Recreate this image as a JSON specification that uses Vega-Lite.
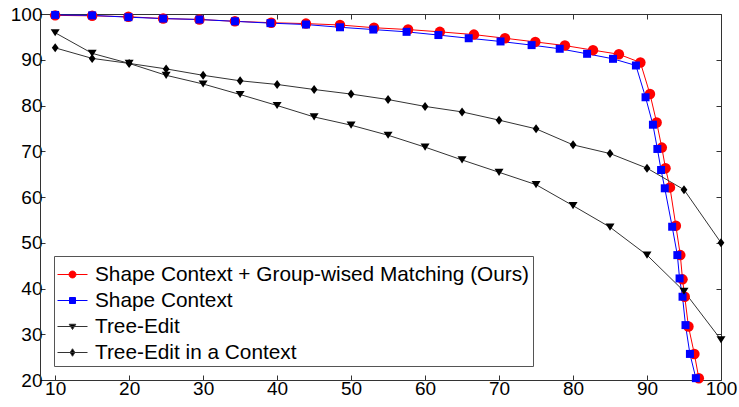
{
  "$schema": "https://vega.github.io/schema/vega-lite/v6.json",
  "width": 681,
  "height": 366,
  "autosize": {"type": "none"},
  "padding": {"left": 40, "top": 14, "right": 18, "bottom": 27},
  "background": "white",
  "config": {
    "view": {"stroke": null},
    "font": "Liberation Sans",
    "axis": {"grid": false, "labelFont": "Liberation Sans", "labelFontSize": 19, "labelColor": "#000000", "domainColor": "#333333", "tickColor": "#333333", "tickSize": -5, "title": null}
  },
  "data": {"values": [
    {"series": "Shape Context + Group-wised Matching (Ours)", "x": 10, "y": 99.7},
    {"series": "Shape Context + Group-wised Matching (Ours)", "x": 15, "y": 99.6},
    {"series": "Shape Context + Group-wised Matching (Ours)", "x": 19.9, "y": 99.4},
    {"series": "Shape Context + Group-wised Matching (Ours)", "x": 24.6, "y": 99.0},
    {"series": "Shape Context + Group-wised Matching (Ours)", "x": 29.5, "y": 98.8},
    {"series": "Shape Context + Group-wised Matching (Ours)", "x": 34.3, "y": 98.4},
    {"series": "Shape Context + Group-wised Matching (Ours)", "x": 39.2, "y": 98.1},
    {"series": "Shape Context + Group-wised Matching (Ours)", "x": 43.9, "y": 97.9},
    {"series": "Shape Context + Group-wised Matching (Ours)", "x": 48.5, "y": 97.6},
    {"series": "Shape Context + Group-wised Matching (Ours)", "x": 53.1, "y": 97.0},
    {"series": "Shape Context + Group-wised Matching (Ours)", "x": 57.7, "y": 96.6},
    {"series": "Shape Context + Group-wised Matching (Ours)", "x": 62.0, "y": 96.1},
    {"series": "Shape Context + Group-wised Matching (Ours)", "x": 66.6, "y": 95.5},
    {"series": "Shape Context + Group-wised Matching (Ours)", "x": 70.8, "y": 94.7},
    {"series": "Shape Context + Group-wised Matching (Ours)", "x": 74.9, "y": 93.9},
    {"series": "Shape Context + Group-wised Matching (Ours)", "x": 78.9, "y": 93.1},
    {"series": "Shape Context + Group-wised Matching (Ours)", "x": 82.7, "y": 92.1},
    {"series": "Shape Context + Group-wised Matching (Ours)", "x": 86.2, "y": 91.2},
    {"series": "Shape Context + Group-wised Matching (Ours)", "x": 89.1, "y": 89.4},
    {"series": "Shape Context + Group-wised Matching (Ours)", "x": 90.4, "y": 82.5},
    {"series": "Shape Context + Group-wised Matching (Ours)", "x": 91.3, "y": 76.3},
    {"series": "Shape Context + Group-wised Matching (Ours)", "x": 92.0, "y": 70.8},
    {"series": "Shape Context + Group-wised Matching (Ours)", "x": 92.5, "y": 66.3},
    {"series": "Shape Context + Group-wised Matching (Ours)", "x": 93.1, "y": 62.1},
    {"series": "Shape Context + Group-wised Matching (Ours)", "x": 93.9, "y": 53.7},
    {"series": "Shape Context + Group-wised Matching (Ours)", "x": 94.5, "y": 47.3},
    {"series": "Shape Context + Group-wised Matching (Ours)", "x": 94.8, "y": 42.0},
    {"series": "Shape Context + Group-wised Matching (Ours)", "x": 95.1, "y": 38.2},
    {"series": "Shape Context + Group-wised Matching (Ours)", "x": 95.6, "y": 31.7},
    {"series": "Shape Context + Group-wised Matching (Ours)", "x": 96.4, "y": 25.7},
    {"series": "Shape Context + Group-wised Matching (Ours)", "x": 97.0, "y": 20.4},
    {"series": "Shape Context", "x": 10, "y": 99.8},
    {"series": "Shape Context", "x": 15, "y": 99.7},
    {"series": "Shape Context", "x": 19.9, "y": 99.3},
    {"series": "Shape Context", "x": 24.6, "y": 99.0},
    {"series": "Shape Context", "x": 29.5, "y": 98.8},
    {"series": "Shape Context", "x": 34.3, "y": 98.4},
    {"series": "Shape Context", "x": 39.1, "y": 98.0},
    {"series": "Shape Context", "x": 43.9, "y": 97.7},
    {"series": "Shape Context", "x": 48.5, "y": 97.1},
    {"series": "Shape Context", "x": 53.0, "y": 96.6},
    {"series": "Shape Context", "x": 57.5, "y": 96.1},
    {"series": "Shape Context", "x": 61.8, "y": 95.4},
    {"series": "Shape Context", "x": 65.9, "y": 94.7},
    {"series": "Shape Context", "x": 70.2, "y": 94.0},
    {"series": "Shape Context", "x": 74.4, "y": 93.2},
    {"series": "Shape Context", "x": 78.2, "y": 92.4},
    {"series": "Shape Context", "x": 81.9, "y": 91.3},
    {"series": "Shape Context", "x": 85.4, "y": 90.2},
    {"series": "Shape Context", "x": 88.5, "y": 88.75},
    {"series": "Shape Context", "x": 89.8, "y": 81.8},
    {"series": "Shape Context", "x": 90.8, "y": 75.8},
    {"series": "Shape Context", "x": 91.4, "y": 70.5},
    {"series": "Shape Context", "x": 91.9, "y": 65.9},
    {"series": "Shape Context", "x": 92.4, "y": 61.9},
    {"series": "Shape Context", "x": 93.4, "y": 53.5},
    {"series": "Shape Context", "x": 94.1, "y": 47.3},
    {"series": "Shape Context", "x": 94.4, "y": 42.2},
    {"series": "Shape Context", "x": 94.8, "y": 38.2},
    {"series": "Shape Context", "x": 95.2, "y": 32.0},
    {"series": "Shape Context", "x": 95.8, "y": 25.7},
    {"series": "Shape Context", "x": 96.6, "y": 20.4},
    {"series": "Tree-Edit", "x": 10, "y": 95.9},
    {"series": "Tree-Edit", "x": 15, "y": 91.4},
    {"series": "Tree-Edit", "x": 20, "y": 89.2},
    {"series": "Tree-Edit", "x": 25, "y": 86.6},
    {"series": "Tree-Edit", "x": 30, "y": 84.7},
    {"series": "Tree-Edit", "x": 35, "y": 82.4},
    {"series": "Tree-Edit", "x": 40, "y": 80.0},
    {"series": "Tree-Edit", "x": 45, "y": 77.5},
    {"series": "Tree-Edit", "x": 50, "y": 75.7},
    {"series": "Tree-Edit", "x": 55, "y": 73.5},
    {"series": "Tree-Edit", "x": 60, "y": 70.9},
    {"series": "Tree-Edit", "x": 65, "y": 68.1},
    {"series": "Tree-Edit", "x": 70, "y": 65.4},
    {"series": "Tree-Edit", "x": 75, "y": 62.7},
    {"series": "Tree-Edit", "x": 80, "y": 58.1},
    {"series": "Tree-Edit", "x": 85, "y": 53.4},
    {"series": "Tree-Edit", "x": 90, "y": 47.3},
    {"series": "Tree-Edit", "x": 95, "y": 39.4},
    {"series": "Tree-Edit", "x": 100, "y": 28.8},
    {"series": "Tree-Edit in a Context", "x": 10, "y": 92.6},
    {"series": "Tree-Edit in a Context", "x": 15, "y": 90.3},
    {"series": "Tree-Edit in a Context", "x": 20, "y": 89.2},
    {"series": "Tree-Edit in a Context", "x": 25, "y": 88.0},
    {"series": "Tree-Edit in a Context", "x": 30, "y": 86.6},
    {"series": "Tree-Edit in a Context", "x": 35, "y": 85.4},
    {"series": "Tree-Edit in a Context", "x": 40, "y": 84.6},
    {"series": "Tree-Edit in a Context", "x": 45, "y": 83.5},
    {"series": "Tree-Edit in a Context", "x": 50, "y": 82.5},
    {"series": "Tree-Edit in a Context", "x": 55, "y": 81.3},
    {"series": "Tree-Edit in a Context", "x": 60, "y": 79.8},
    {"series": "Tree-Edit in a Context", "x": 65, "y": 78.6},
    {"series": "Tree-Edit in a Context", "x": 70, "y": 76.8},
    {"series": "Tree-Edit in a Context", "x": 75, "y": 74.9},
    {"series": "Tree-Edit in a Context", "x": 80, "y": 71.4},
    {"series": "Tree-Edit in a Context", "x": 85, "y": 69.5},
    {"series": "Tree-Edit in a Context", "x": 90, "y": 66.3},
    {"series": "Tree-Edit in a Context", "x": 95, "y": 61.6},
    {"series": "Tree-Edit in a Context", "x": 100, "y": 50.0}
  ]},
  "resolve": {"axis": {"x": "independent", "y": "independent"}},
  "layer": [
    {
      "mark": {"type": "line", "strokeWidth": 1, "clip": false},
      "encoding": {
        "x": {"field": "x", "type": "quantitative", "scale": {"domain": [7.95, 100], "nice": false, "zero": false},
              "axis": {"orient": "bottom", "values": [10, 20, 30, 40, 50, 60, 70, 80, 90, 100], "labelPadding": 4, "labelFlush": false, "title": null}},
        "y": {"field": "y", "type": "quantitative", "scale": {"domain": [20, 100], "nice": false, "zero": false},
              "axis": {"orient": "left", "values": [20, 30, 40, 50, 60, 70, 80, 90, 100], "labelPadding": 3, "labelFlush": false, "title": null}},
        "stroke": {"field": "series", "type": "nominal",
          "scale": {"domain": ["Shape Context + Group-wised Matching (Ours)", "Shape Context", "Tree-Edit", "Tree-Edit in a Context"], "range": ["#ff0000", "#0000ff", "#333333", "#333333"]},
          "legend": {
            "orient": "bottom-left", "offset": 14, "title": null,
            "symbolSize": 900, "labelFont": "Liberation Sans", "labelFontSize": 20.8, "labelColor": "#000000",
            "labelOffset": 7, "labelLimit": 0, "padding": 3, "rowPadding": 0,
            "strokeColor": "#555555", "fillColor": "#ffffff", "symbolStrokeWidth": 1,
            "encode": {"symbols": {"update": {
              "size": {"value": 900},
              "strokeWidth": {"value": 1},
              "opacity": {"value": 1},
              "shape": {"signal": "datum.value === 'Shape Context' ? 'M-1,0H1M-0.2,-0.2H0.2V0.2H-0.2Z' : datum.value === 'Tree-Edit' ? 'M-1,0H1M-0.22,-0.15H0.22L0,0.2Z' : datum.value === 'Tree-Edit in a Context' ? 'M-1,0H1M0,-0.25L0.16,0L0,0.25L-0.16,0Z' : 'M-1,0H1M-0.23,0A0.23,0.23,0,1,1,0.23,0A0.23,0.23,0,1,1,-0.23,0Z'"},
              "stroke": {"signal": "datum.value === 'Shape Context' ? '#0000ff' : indexof(datum.value, 'Tree') === 0 ? '#000000' : '#ff0000'"},
              "fill": {"signal": "datum.value === 'Shape Context' ? '#0000ff' : indexof(datum.value, 'Tree') === 0 ? '#000000' : '#ff0000'"}
            }}}
          }
        }
      }
    },
    {
      "transform": [{"filter": {"field": "series", "equal": "Shape Context + Group-wised Matching (Ours)"}}],
      "mark": {"type": "point", "filled": true, "opacity": 1, "strokeWidth": 0, "clip": false, "shape": "circle", "size": 110, "color": "#ff0000"},
      "encoding": {
        "x": {"field": "x", "type": "quantitative", "scale": {"domain": [7.95, 100], "nice": false, "zero": false},
              "axis": {"orient": "top", "values": [10, 20, 30, 40, 50, 60, 70, 80, 90, 100], "labels": false, "title": null}},
        "y": {"field": "y", "type": "quantitative", "scale": {"domain": [20, 100], "nice": false, "zero": false},
              "axis": {"orient": "right", "values": [20, 30, 40, 50, 60, 70, 80, 90, 100], "labels": false, "title": null}}
      }
    },
    {
      "transform": [{"filter": {"field": "series", "equal": "Shape Context"}}],
      "mark": {"type": "point", "filled": true, "opacity": 1, "strokeWidth": 0, "clip": false, "shape": "square", "size": 64, "color": "#0000ff"},
      "encoding": {
        "x": {"field": "x", "type": "quantitative", "axis": null},
        "y": {"field": "y", "type": "quantitative", "axis": null}
      }
    },
    {
      "transform": [{"filter": {"field": "series", "equal": "Tree-Edit"}}],
      "mark": {"type": "point", "filled": true, "opacity": 1, "strokeWidth": 0, "clip": false, "shape": "M-1,-0.8H1L0,0.8Z", "size": 81, "color": "#000000"},
      "encoding": {
        "x": {"field": "x", "type": "quantitative", "axis": null},
        "y": {"field": "y", "type": "quantitative", "axis": null}
      }
    },
    {
      "transform": [{"filter": {"field": "series", "equal": "Tree-Edit in a Context"}}],
      "mark": {"type": "point", "filled": true, "opacity": 1, "strokeWidth": 0, "clip": false, "shape": "M0,-1L0.75,0L0,1L-0.75,0Z", "size": 81, "color": "#000000"},
      "encoding": {
        "x": {"field": "x", "type": "quantitative", "axis": null},
        "y": {"field": "y", "type": "quantitative", "axis": null}
      }
    }
  ]
}
